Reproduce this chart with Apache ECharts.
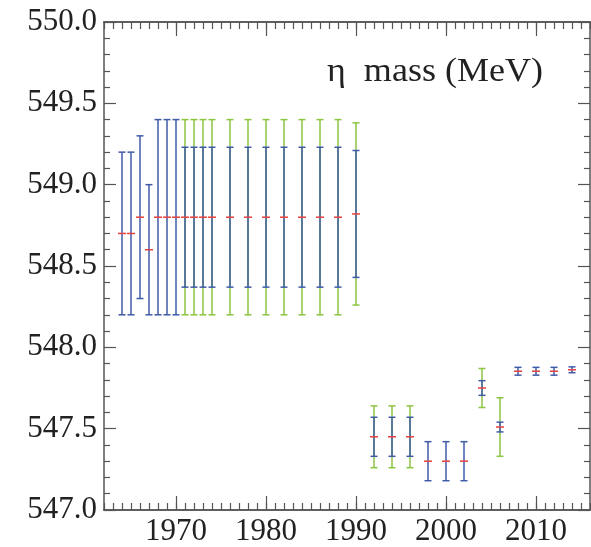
<!DOCTYPE html>
<html>
<head>
<meta charset="utf-8">
<script src="https://cdn.jsdelivr.net/npm/echarts@6/dist/echarts.min.js"></script>
<style>html,body{margin:0;padding:0;background:#fff}#c{width:591px;height:547px}</style>
</head>
<body>
<div id="c"></div>
<script>
// edition years
const years = [1964,1965,1966,1967,1968,1969,1970,1971,1972,1973,1974,1976,1978,1980,1982,1984,1986,1988,1990,1992,1994,1996,1998,2000,2002,2004,2006,2008,2010,2012,2014];
// central mass values (MeV)
const mass = [548.7,548.7,548.8,548.6,548.8,548.8,548.8,548.8,548.8,548.8,548.8,548.8,548.8,548.8,548.8,548.8,548.8,548.8,548.82,547.45,547.45,547.45,547.30,547.30,547.30,547.75,547.51,547.853,547.853,547.853,547.862];
// inner (blue) error
const blueErr = [0.5,0.5,0.5,0.4,0.6,0.6,0.6,0.43,0.43,0.43,0.43,0.43,0.43,0.43,0.43,0.43,0.43,0.43,0.39,0.12,0.12,0.12,0.12,0.12,0.12,0.045,0.03,0.024,0.024,0.024,0.018];
// outer (green) error, null where absent
const greenErr = [null,null,null,null,null,null,null,0.6,0.6,0.6,0.6,0.6,0.6,0.6,0.6,0.6,0.6,0.6,0.56,0.19,0.19,0.19,null,null,null,0.12,0.18,null,null,null,null];
// axis categories (one tick per year)
const tickYears = [];
for (let y = 1962; y <= 2016; y++) tickYears.push(String(y));
const yMin = 547.0, yMax = 550.0, yStep = 0.5;
const titleText = 'η  mass (MeV)';

const BLUE = '#3f5ba8', GREEN = '#8cc540', RED = '#e8413f';
const FONT = '"Liberation Serif", "DejaVu Serif", serif';
const AX = '#555';

const data = years.map((y, i) => [y, mass[i], blueErr[i], greenErr[i] == null ? 0 : greenErr[i]]);

function renderItem(params, api) {
  const x = api.value(0), m = api.value(1), b = api.value(2), g = api.value(3);
  const children = [];
  const hw = 3.5;
  function bar(err, color) {
    const top = api.coord([x, m + err]);
    const bot = api.coord([x, m - err]);
    const st = {stroke: color, lineWidth: 1.5};
    children.push({type: 'line', shape: {x1: top[0], y1: top[1], x2: bot[0], y2: bot[1]}, style: st});
    children.push({type: 'line', shape: {x1: top[0]-hw, y1: top[1], x2: top[0]+hw, y2: top[1]}, style: st});
    children.push({type: 'line', shape: {x1: bot[0]-hw, y1: bot[1], x2: bot[0]+hw, y2: bot[1]}, style: st});
  }
  if (g > 0) bar(g, GREEN);
  bar(b, BLUE);
  const c = api.coord([x, m]);
  children.push({type: 'line', shape: {x1: c[0]-4, y1: c[1], x2: c[0]+4, y2: c[1]}, style: {stroke: RED, lineWidth: 1.5}});
  return {type: 'group', children};
}

function catAxis(pos, len, major, labels) {
  return {
    type: 'category', position: pos, data: tickYears, boundaryGap: false,
    axisLine: {show: true, onZero: false, lineStyle: {color: AX, width: 1.5}},
    axisTick: {show: true, inside: true, length: len, alignWithLabel: true,
      interval: major ? (i, v) => (+v) % 10 === 0 : 0,
      lineStyle: {color: AX, width: 1.2}},
    axisLabel: labels ? {show: true, interval: (i, v) => (+v) % 10 === 0, margin: 6,
      color: '#222', fontFamily: FONT, fontSize: 31} : {show: false},
    splitLine: {show: false}
  };
}

function valYAxis(pos, labels) {
  return {
    type: 'value', position: pos, min: yMin, max: yMax, interval: yStep,
    axisLine: {show: true, onZero: false, lineStyle: {color: AX, width: 1.5}},
    axisTick: {show: true, inside: true, length: 12, lineStyle: {color: AX, width: 1.2}},
    minorTick: {show: true, splitNumber: 5, length: 6, lineStyle: {color: AX, width: 1.2}},
    axisLabel: labels ? {show: true, margin: 7, color: '#222', fontFamily: FONT, fontSize: 31,
      formatter: v => v.toFixed(1)} : {show: false},
    splitLine: {show: false}
  };
}

const chart = echarts.init(document.getElementById('c'), null, {renderer: 'canvas'});
chart.setOption({
  animation: false,
  backgroundColor: '#fff',
  grid: {left: 104, right: 1, top: 22, bottom: 36, containLabel: false},
  xAxis: [
    {type: 'value', min: 1962, max: 2016, show: false},
    catAxis('bottom', 7, false, false),
    catAxis('bottom', 14, true, true),
    catAxis('top', 7, false, false),
    catAxis('top', 14, true, false)
  ],
  yAxis: [valYAxis('left', true), valYAxis('right', false)],
  graphic: [{
    type: 'text', x: 327, y: 55, scaleX: 1.06,
    style: {text: titleText, font: '34px ' + FONT, fill: '#222'}
  }],
  series: [{
    type: 'custom', xAxisIndex: 0, yAxisIndex: 0,
    renderItem, data, encode: {x: 0, y: 1}, clip: false
  }]
});
</script>
</body>
</html>
